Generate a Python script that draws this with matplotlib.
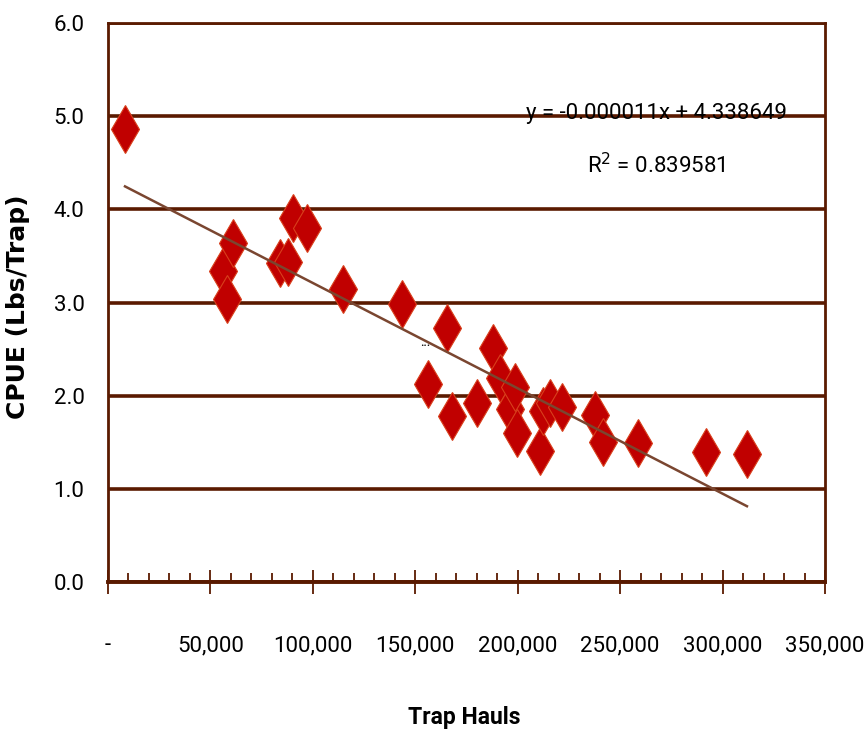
import numpy as np
import matplotlib
matplotlib.use("Agg")
import matplotlib.pyplot as plt
from matplotlib.ticker import MultipleLocator, FixedLocator

# --- data ---
trap_hauls = [8300, 56100, 58100, 61000, 84000, 87900, 90300, 97100, 114700,
              143500, 156200, 165500, 168000, 180100, 188000, 191300, 196200,
              198700, 199600, 210900, 212300, 215700, 221600, 237700, 241600,
              258700, 291900, 311900]
cpue = [4.86, 3.34, 3.04, 3.64, 3.42, 3.43, 3.91, 3.80, 3.15,
        2.98, 2.13, 2.73, 1.78, 1.92, 2.51, 2.19, 1.86,
        2.09, 1.60, 1.41, 1.84, 1.92, 1.88, 1.79, 1.50,
        1.49, 1.40, 1.37]

x_ticks = [0, 50000, 100000, 150000, 200000, 250000, 300000, 350000]
x_labels = ["-", "50,000", "100,000", "150,000", "200,000", "250,000", "300,000", "350,000"]
y_ticks = [0, 1, 2, 3, 4, 5, 6]
y_labels = ["0.0", "1.0", "2.0", "3.0", "4.0", "5.0", "6.0"]

eq_text = "y = -0.000011x + 4.338649"
r2_text = "R$^2$ = 0.839581"

narrow = ["Roboto", "DejaVu Sans"]
brown = "#5a1a00"

fig = plt.figure(figsize=(8.67, 7.38), dpi=100)
ax = fig.add_axes([0.12457, 0.21138, 0.82699, 0.75745])

# trendline (least squares on the points)
xs = np.array(trap_hauls, dtype=float)
ys = np.array(cpue)
k, b = np.polyfit(xs, ys, 1)
xl = np.array([xs.min(), xs.max()])
ax.plot(xl, k * xl + b, color="#7a4630", lw=1.8, zorder=4)

ax.plot(trap_hauls, cpue, linestyle="none", marker="d", markersize=24,
        markerfacecolor="#c00000", markeredgecolor="#d8401c",
        markeredgewidth=0.8, zorder=3)

ax.set_xlim(0, 350000)
ax.set_ylim(0, 6)
ax.xaxis.set_major_locator(FixedLocator(x_ticks))
ax.set_xticklabels(x_labels, family=narrow, fontsize=16)
ax.xaxis.set_minor_locator(MultipleLocator(10000))
ax.set_yticks(y_ticks)
ax.set_yticklabels(y_labels, family=narrow, fontsize=16)

ax.grid(axis="y", color=brown, lw=2.6, zorder=1)
ax.set_axisbelow(True)
for s in ax.spines.values():
    s.set_color(brown)
    s.set_linewidth(2)
ax.spines["bottom"].set_linewidth(2.8)

ax.tick_params(axis="x", which="major", direction="inout", length=17,
               width=1.3, color=brown, pad=30)
ax.tick_params(axis="x", which="minor", direction="in", length=6.5,
               width=1.3, color=brown)
ax.tick_params(axis="y", length=0, pad=17)

ax.set_ylabel("CPUE (Lbs/Trap)", fontsize=18, fontweight="bold")
ax.yaxis.set_label_coords(-0.109, 0.492)
ax.set_xlabel("Trap Hauls", family=narrow, fontsize=16.5, fontweight="bold")
ax.xaxis.set_label_coords(0.497, -0.222)

# equation box
fig.text(656 / 867, 1 - 114 / 738, eq_text, family=narrow, fontsize=16,
         ha="center", va="center")
fig.text(656 / 867, 1 - 166 / 738, r2_text, family=narrow, fontsize=16,
         ha="center", va="center")
fig.text(425 / 867, 1 - 345 / 738, "•••", fontsize=4, ha="center", va="center")

fig.savefig("out.png", dpi=100)
